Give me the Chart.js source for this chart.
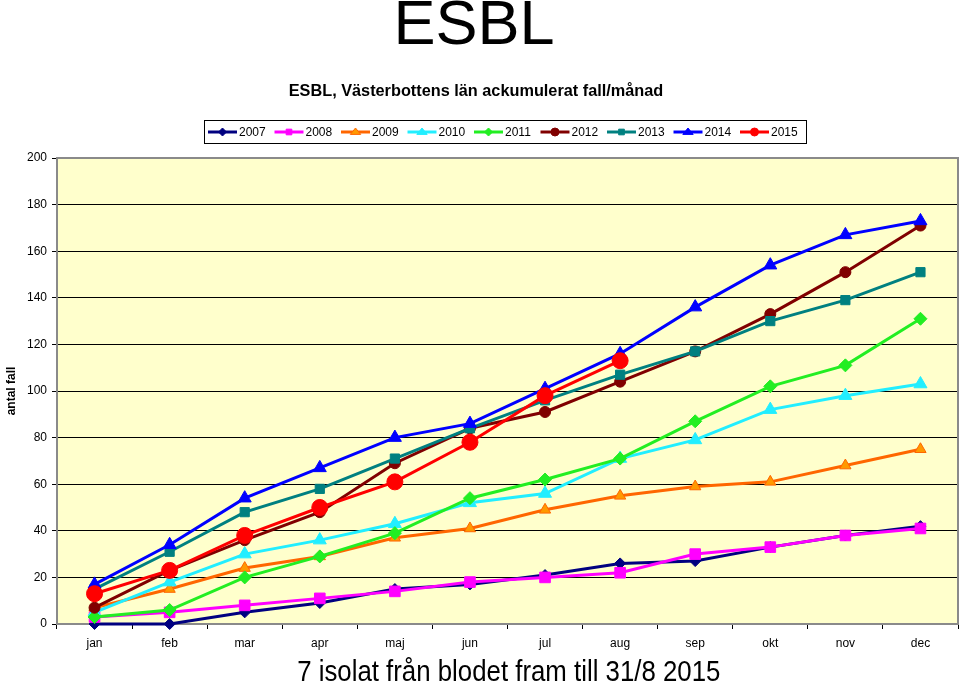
<!DOCTYPE html>
<html lang="sv">

<head>
    <meta charset="UTF-8">
    <title>ESBL</title>
    <script src="https://cdn.jsdelivr.net/npm/chart.js"></script>
    <style>
        body { margin: 0; background: #fff; font-family: Arial, "Liberation Sans", sans-serif; }
        #wrap { position: relative; width: 960px; height: 685px; overflow: hidden; }
        #myChart { position: absolute; left: 0; top: 0; }
        .txt { position: absolute; left: 0; width: 960px; text-align: center; color: #000; white-space: nowrap; }
        #title { top: -14px; font-size: 63px; left: -6px; }
        #subtitle { top: 81px; font-size: 16.3px; font-weight: bold; left: -4px; }
        #caption { top: 655px; font-size: 29px; left: 29px; }
        #caption span { display: inline-block; transform: scaleX(0.89); }
    </style>
</head>

<body>
    <div id="wrap">
        <canvas id="myChart" width="960" height="685"></canvas>
        <div class="txt" id="title">ESBL</div>
        <div class="txt" id="subtitle">ESBL, Västerbottens län ackumulerat fall/månad</div>
        <div class="txt" id="caption"><span>7 isolat från blodet fram till 31/8 2015</span></div>
    </div>

    <script>
        // months and years
        const months = ['jan', 'feb', 'mar', 'apr', 'maj', 'jun', 'jul', 'aug', 'sep', 'okt', 'nov', 'dec'];
        const years = ['2007', '2008', '2009', '2010', '2011', '2012', '2013', '2014', '2015'];
        const yTicks = [0, 20, 40, 60, 80, 100, 120, 140, 160, 180, 200];

        // accumulated cases per month
        const y2007 = [0, 0, 5, 9, 15, 17, 21, 26, 27, 33, 38, 42];
        const y2008 = [3, 5, 8, 11, 14, 18, 20, 22, 30, 33, 38, 41];
        const y2009 = [7, 15, 24, 29, 37, 41, 49, 55, 59, 61, 68, 75];
        const y2010 = [5, 18, 30, 36, 43, 52, 56, 71, 79, 92, 98, 103];
        const y2011 = [3, 6, 20, 29, 39, 54, 62, 71, 87, 102, 111, 131];
        const y2012 = [7, 23, 36, 48, 69, 84, 91, 104, 117, 133, 151, 171];
        const y2013 = [15, 31, 48, 58, 71, 84, 96, 107, 117, 130, 139, 151];
        const y2014 = [17, 34, 54, 67, 80, 86, 101, 116, 136, 154, 167, 173];
        const y2015 = [13, 23, 38, 50, 61, 78, 98, 113];

        const seriesData = [y2007, y2008, y2009, y2010, y2011, y2012, y2013, y2014, y2015];

        // look of each year: line colour, marker fill, marker shape, marker radius
        const styles = [
            ['#000080', '#000080', 'rectRot', 5.5],
            ['#FF00FF', '#FF00FF', 'rect', 7.5],
            ['#FF6600', '#FF9900', 'triangle', 6.5],
            ['#22EEFF', '#22EEFF', 'triangle', 7.5],
            ['#22EE22', '#22EE22', 'rectRot', 6.5],
            ['#800000', '#800000', 'circle', 5.5],
            ['#008080', '#008080', 'rect', 6.5],
            ['#0000FF', '#0000FF', 'triangle', 7.5],
            ['#FF0000', '#FF0000', 'circle', 8]
        ];

        const datasets = years.map((yr, i) => ({
            label: yr,
            data: seriesData[i],
            borderColor: styles[i][0],
            backgroundColor: styles[i][1],
            pointBackgroundColor: styles[i][1],
            pointBorderColor: styles[i][0],
            pointBorderWidth: 1,
            pointStyle: styles[i][2],
            pointRadius: styles[i][3],
            borderWidth: 3,
            tension: 0,
            clip: false,
            order: years.length - i
        }));

        // draw a marker like Chart.js does, used for the legend
        function drawMarker(ctx, style, r, x, y) {
            ctx.beginPath();
            if (style === 'circle') {
                ctx.arc(x, y, r, 0, Math.PI * 2);
            } else if (style === 'rect') {
                const s = r / Math.SQRT2;
                ctx.rect(x - s, y - s, s * 2, s * 2);
            } else if (style === 'rectRot') {
                ctx.moveTo(x, y - r); ctx.lineTo(x + r, y); ctx.lineTo(x, y + r); ctx.lineTo(x - r, y);
                ctx.closePath();
            } else if (style === 'triangle') {
                ctx.moveTo(x, y - r); ctx.lineTo(x + r * 1.3, y + r * 0.6); ctx.lineTo(x - r * 1.3, y + r * 0.6);
                ctx.closePath();
            }
            ctx.fill();
            ctx.stroke();
        }

        // yellow plot background with grey frame
        const plotBg = {
            id: 'plotBg',
            beforeDraw(chart) {
                const { ctx, chartArea: a } = chart;
                ctx.save();
                ctx.fillStyle = '#FFFFCC';
                ctx.fillRect(a.left, a.top, a.right - a.left, a.bottom - a.top);
                ctx.restore();
            },
            beforeDatasetsDraw(chart) {
                const { ctx, chartArea: a } = chart;
                ctx.save();
                ctx.strokeStyle = '#8a8a8a';
                ctx.lineWidth = 2;
                ctx.strokeRect(a.left, a.top, a.right - a.left, a.bottom - a.top);
                ctx.restore();
            }
        };

        // Excel style legend with line + marker in a box
        const boxLegend = {
            id: 'boxLegend',
            afterDraw(chart) {
                const ctx = chart.ctx;
                ctx.save();
                ctx.strokeStyle = '#000';
                ctx.lineWidth = 1;
                ctx.strokeRect(204.5, 120.5, 602, 23);
                ctx.font = '12px Arial, "Liberation Sans", sans-serif';
                ctx.textBaseline = 'middle';
                chart.data.datasets.forEach((ds, i) => {
                    const x = 208 + i * 66.5;
                    const y = 132;
                    ctx.strokeStyle = ds.borderColor;
                    ctx.lineWidth = 3;
                    ctx.beginPath();
                    ctx.moveTo(x, y);
                    ctx.lineTo(x + 29, y);
                    ctx.stroke();
                    ctx.fillStyle = ds.pointBackgroundColor;
                    ctx.strokeStyle = ds.pointBorderColor;
                    ctx.lineWidth = 1;
                    drawMarker(ctx, ds.pointStyle, 4, x + 14.5, y);
                    ctx.fillStyle = '#000';
                    ctx.fillText(ds.label, x + 31, y + 1);
                });
                ctx.restore();
            }
        };

        const ctx = document.getElementById('myChart').getContext('2d');
        new Chart(ctx, {
            type: 'line',
            data: {
                labels: months,
                datasets: datasets
            },
            options: {
                responsive: false,
                animation: false,
                layout: {
                    autoPadding: false,
                    padding: { left: 0, top: 158, right: 2, bottom: 0 }
                },
                plugins: {
                    legend: { display: false },
                    tooltip: { enabled: false }
                },
                scales: {
                    x: {
                        offset: true,
                        grid: {
                            offset: true,
                            drawOnChartArea: false,
                            color: '#000',
                            tickLength: 5
                        },
                        border: { color: '#000', width: 1 },
                        ticks: {
                            color: '#000',
                            padding: 7,
                            maxRotation: 0,
                            font: { family: '"Liberation Sans Narrow", Arial, sans-serif', size: 12 }
                        },
                        afterFit(scale) {
                            scale.height = 61;
                            scale.paddingLeft = 0;
                            scale.paddingRight = 0;
                        }
                    },
                    y: {
                        min: 0,
                        max: 200,
                        afterBuildTicks(scale) {
                            scale.ticks = yTicks.map(v => ({ value: v }));
                        },
                        grid: {
                            color: '#000',
                            lineWidth: 1,
                            tickLength: 5
                        },
                        border: { color: '#000', width: 1 },
                        ticks: {
                            color: '#000',
                            padding: 5,
                            font: { family: 'Arial, "Liberation Sans", sans-serif', size: 12 }
                        },
                        title: {
                            display: true,
                            text: 'antal fall',
                            color: '#000',
                            padding: { top: 4, bottom: 0 },
                            font: { family: 'Arial, "Liberation Sans", sans-serif', size: 12, weight: 'bold' }
                        },
                        afterFit(scale) { scale.width = 57; }
                    }
                }
            },
            plugins: [plotBg, boxLegend]
        });
    </script>

</body>

</html>
